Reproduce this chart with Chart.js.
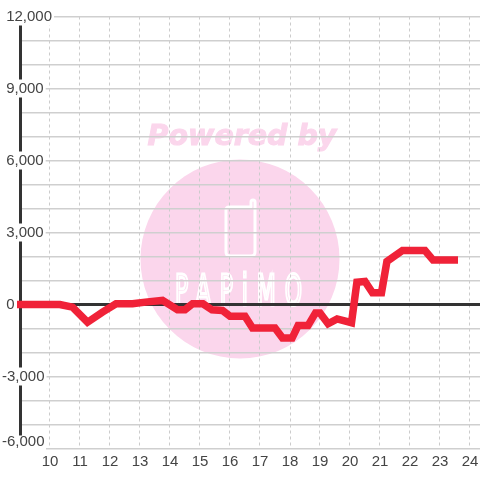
<!DOCTYPE html>
<html>
<head>
<meta charset="utf-8">
<style>
  html, body { margin: 0; padding: 0; background: #fff; }
  #wrap { width: 480px; height: 480px; }
</style>
<script src="https://cdn.jsdelivr.net/npm/chart.js@4"></script>
</head>
<body>
<div id="wrap"><canvas id="chart" width="480" height="480"></canvas></div>
<script>
const hours = [8.9, 10, 10.33, 10.75, 11.25, 11.75, 12.2, 12.75, 13.25, 13.75, 14.25, 14.5, 14.75, 15.1, 15.4, 15.75, 16, 16.5, 16.75, 17.5, 17.75, 18.07, 18.27, 18.6, 18.85, 19, 19.27, 19.57, 20.05, 20.23, 20.5, 20.75, 21.05, 21.23, 21.75, 22.5, 22.77, 23.6]
const values = [0, 0, 0, -110, -740, -320, 30, 30, 110, 170, -220, -220, 30, 30, -220, -250, -490, -490, -980, -980, -1400, -1400, -880, -880, -350, -350, -800, -600, -760, 930, 960, 490, 490, 1790, 2250, 2250, 1850, 1850]
const labelledStep = 3000
const yFloor = -6000
const watermarkTop = 'Powered by'
const watermarkLogo = 'PAPiMO'

const watermark = {
  id: 'watermark',
  beforeDraw(chart) {
    const ctx = chart.ctx
    ctx.save()
    ctx.fillStyle = '#fbd6ec'
    ctx.beginPath()
    ctx.arc(240, 259, 99.5, 0, Math.PI * 2)
    ctx.fill()

    ctx.font = 'italic bold 28.5px "DejaVu Sans"'
    ctx.textBaseline = 'alphabetic'
    ctx.textAlign = 'center'
    ctx.strokeStyle = '#fbd6ec'
    ctx.lineWidth = 1
    ctx.fillText(watermarkTop, 242, 145)
    ctx.strokeText(watermarkTop, 242, 145)

    // phone icon
    ctx.strokeStyle = '#fff'
    ctx.lineWidth = 3
    ctx.lineJoin = 'round'
    ctx.lineCap = 'round'
    ctx.beginPath()
    ctx.moveTo(251, 207)
    ctx.lineTo(229, 207)
    ctx.quadraticCurveTo(226, 207, 226, 210)
    ctx.lineTo(226, 252)
    ctx.quadraticCurveTo(226, 256, 230, 256)
    ctx.lineTo(251, 256)
    ctx.quadraticCurveTo(255, 256, 255, 252)
    ctx.lineTo(255, 202)
    ctx.quadraticCurveTo(255, 200, 253, 200)
    ctx.quadraticCurveTo(251, 200, 251, 202)
    ctx.lineTo(251, 207)
    ctx.stroke()

    // logo text
    ctx.translate(243, 305)
    ctx.scale(1, 1.95)
    ctx.font = '22px "DejaVu Sans"'
    ctx.letterSpacing = '9px'
    ctx.lineWidth = 1.6
    ctx.lineJoin = 'miter'
    ctx.strokeStyle = '#fff'
    ctx.textAlign = 'center'
    ctx.strokeText(watermarkLogo, 0, 0)
    ctx.restore()
  },
  // white patch behind the lowest label, its backdrop can't be used with a two line label
  beforeDatasetsDraw(chart) {
    const floorY = chart.scales.y.getPixelForValue(yFloor)
    chart.ctx.save()
    chart.ctx.fillStyle = '#fff'
    chart.ctx.fillRect(0, floorY - 13, 46, 15)
    chart.ctx.restore()
  }
}

new Chart(document.getElementById('chart').getContext('2d'), {
  type: 'line',
  data: {
    datasets: [{
      data: hours.map((h, i) => ({ x: h, y: values[i] })),
      borderColor: '#f02238',
      borderWidth: 7.5,
      borderCapStyle: 'butt',
      borderJoinStyle: 'miter',
      pointRadius: 0,
      tension: 0,
      clip: false
    }]
  },
  plugins: [watermark],
  options: {
    responsive: false,
    animation: false,
    layout: { padding: { top: 16.5, right: 0, bottom: 0, left: 0 } },
    plugins: { legend: { display: false }, tooltip: { enabled: false } },
    scales: {
      x: {
        type: 'linear',
        min: 9,
        max: 9 + 460 / 30,
        afterFit: s => { s.height = 31.5; s.paddingLeft = 0; s.paddingRight = 0 },
        border: { display: false, dash: [3, 3] },
        grid: {
          drawTicks: false,
          lineWidth: 1,
          color: c => c.tick.value > 9 ? '#cccccc' : 'transparent'
        },
        ticks: {
          stepSize: 1,
          includeBounds: false,
          padding: 4.5,
          z: 1,
          maxRotation: 0,
          autoSkip: false,
          color: '#444',
          font: { family: '"Liberation Sans"', size: 15 },
          callback: v => v > 9 ? String(v) : ''
        }
      },
      y: {
        min: yFloor,
        max: 12000,
        afterFit: s => { s.width = 20; s.paddingTop = 0; s.paddingBottom = 0 },
        border: { color: '#333', width: 3 },
        grid: {
          drawTicks: false,
          lineWidth: c => c.tick.value === 0 ? 3 : 1.4,
          color: c => c.tick.value === 0 ? '#333' : '#cfcfcf'
        },
        ticks: {
          stepSize: 1000,
          mirror: true,
          crossAlign: 'near',
          padding: -18,
          z: 1,
          autoSkip: false,
          color: '#444',
          // the lowest label sits above its grid line, a blank second line pushes it up
          font: c => ({
            family: '"Liberation Sans"',
            size: 15,
            lineHeight: c.tick?.value === yFloor ? 13 / 15 : 1.2
          }),
          showLabelBackdrop: c => c.tick.value % labelledStep === 0 && c.tick.value !== 0 && c.tick.value !== yFloor,
          backdropColor: '#fff',
          backdropPadding: { top: 0, bottom: 0, left: 0, right: 2 },
          callback: v => {
            if (v % labelledStep !== 0) return ''
            const text = v.toLocaleString('en-US')
            if (v === yFloor) return [text, '']
            return v < 0 ? text : ' ' + text
          }
        }
      }
    }
  }
})
</script>
</body>
</html>
